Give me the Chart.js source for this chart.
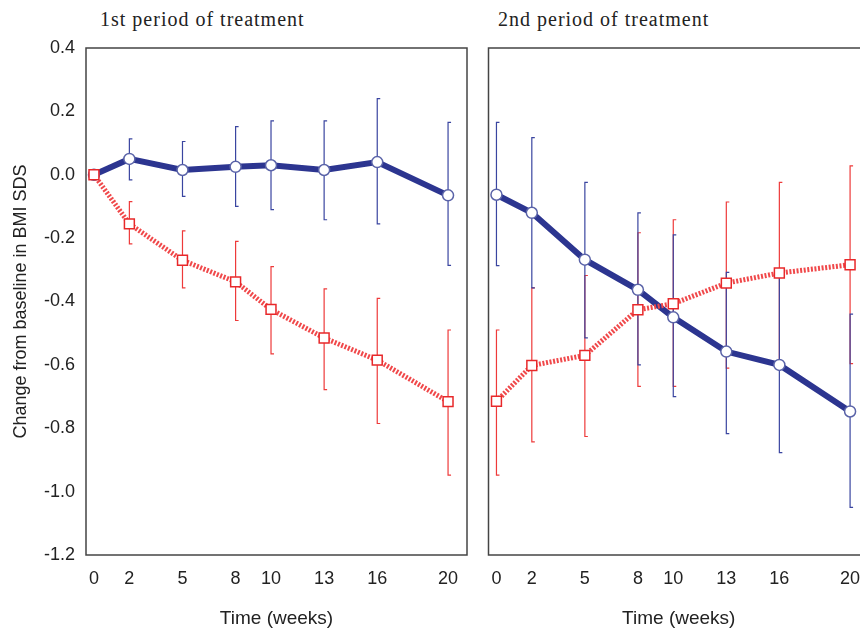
<!DOCTYPE html>
<html lang="en">
<head>
<meta charset="UTF-8">
<title>Change from baseline in BMI SDS</title>
<script src="https://cdn.jsdelivr.net/npm/chart.js"></script>
<style>
  html, body { margin: 0; padding: 0; background: #fff; overflow: hidden; }
  body { width: 860px; height: 630px; position: relative; }
  .panel { position: absolute; top: 0; height: 630px; }
  .ptitle { position: absolute; top: 9px; font-family: 'Liberation Serif', 'Times New Roman', serif;
            font-size: 20px; line-height: 20px; letter-spacing: 1px; color: #222; white-space: nowrap; }
</style>
</head>
<body>
<div class="ptitle" style="left:100px">1st period of treatment</div>
<div class="ptitle" style="left:498px">2nd period of treatment</div>
<div class="panel" style="left:0;width:480px"><canvas id="p1" width="480" height="630"></canvas></div>
<div class="panel" style="left:480px;width:400px"><canvas id="p2" width="400" height="630"></canvas></div>
<script>
// weeks and axis ticks
const weeks = [0, 2, 5, 8, 10, 13, 16, 20];
const yTicks = [-1.2, -1.0, -0.8, -0.6, -0.4, -0.2, 0.0, 0.2, 0.4];

// 1st period: means and error bar ends
const p1Blue   = [0.0, 0.05, 0.015, 0.025, 0.03, 0.015, 0.04, -0.065];
const p1BlueHi = [0.0, 0.113, 0.105, 0.152, 0.17, 0.17, 0.24, 0.165];
const p1BlueLo = [0.0, -0.016, -0.068, -0.10, -0.11, -0.142, -0.155, -0.286];
const p1Red    = [0.0, -0.155, -0.27, -0.338, -0.425, -0.515, -0.585, -0.716];
const p1RedHi  = [0.0, -0.085, -0.177, -0.21, -0.29, -0.36, -0.39, -0.49];
const p1RedLo  = [0.0, -0.218, -0.357, -0.46, -0.565, -0.678, -0.785, -0.948];

// 2nd period
const p2Blue   = [-0.063, -0.12, -0.268, -0.363, -0.45, -0.558, -0.6, -0.747];
const p2BlueHi = [0.165, 0.117, -0.024, -0.12, -0.19, -0.308, -0.32, -0.44];
const p2BlueLo = [-0.287, -0.357, -0.515, -0.6, -0.70, -0.817, -0.877, -1.05];
const p2Red    = [-0.715, -0.602, -0.57, -0.426, -0.407, -0.342, -0.31, -0.284];
const p2RedHi  = [-0.49, -0.357, -0.318, -0.183, -0.142, -0.086, -0.024, 0.028];
const p2RedLo  = [-0.948, -0.843, -0.826, -0.668, -0.668, -0.61, -0.596, -0.596];

Chart.defaults.font.family = "'Liberation Sans', Arial, sans-serif";
Chart.defaults.color = '#333';

// frame + error bars, drawn under the lines
const errorBars = {
  id: 'errorBars',
  beforeDatasetsDraw(chart) {
    const { ctx, chartArea: a, scales: { x, y } } = chart;
    ctx.save();
    ctx.strokeStyle = '#444';
    ctx.lineWidth = 1.5;
    ctx.strokeRect(a.left, a.top, a.right - a.left, a.bottom - a.top);
    chart.data.datasets.forEach(ds => {
      ctx.strokeStyle = ds.errColor;
      ctx.lineWidth = 1.2;
      weeks.forEach((w, i) => {
        if (ds.hi[i] === ds.lo[i]) return;
        const px = x.getPixelForValue(w);
        const top = y.getPixelForValue(ds.hi[i]);
        const bot = y.getPixelForValue(ds.lo[i]);
        ctx.beginPath();
        ctx.moveTo(px + 3, top);
        ctx.lineTo(px, top);
        ctx.lineTo(px, bot);
        ctx.lineTo(px + 3, bot);
        ctx.stroke();
      });
    });
    ctx.restore();
  }
};

function makePanel(id, blue, blueHi, blueLo, red, redHi, redLo, first) {
  const pts = arr => weeks.map((w, i) => ({ x: w, y: arr[i] }));
  new Chart(document.getElementById(id), {
    type: 'line',
    data: {
      datasets: [
        {
          data: pts(red), hi: redHi, lo: redLo, errColor: '#ee3a3a',
          borderColor: '#f0484a', borderWidth: 5, borderDash: [2, 1.6],
          pointStyle: 'rect', pointRadius: 7, pointBorderWidth: 1.5,
          pointBackgroundColor: '#fff', pointBorderColor: '#e8282a', tension: 0
        },
        {
          data: pts(blue), hi: blueHi, lo: blueLo, errColor: '#3a45a0',
          borderColor: '#2c3590', borderWidth: 6,
          pointStyle: 'circle', pointRadius: 5.5, pointBorderWidth: 1.5,
          pointBackgroundColor: '#fff', pointBorderColor: '#5a63a8', tension: 0
        }
      ]
    },
    options: {
      responsive: false,
      animation: false,
      layout: { padding: { top: 48, right: first ? 13 : 11, left: 0, bottom: 0 } },
      plugins: { legend: { display: false }, tooltip: { enabled: false } },
      scales: {
        x: {
          type: 'linear', min: -0.45, max: 21.07,
          grid: { display: false }, border: { display: false },
          afterBuildTicks: s => { s.ticks = weeks.map(v => ({ value: v })); },
          afterFit: s => { s.height = 75; },
          ticks: { font: { size: 18 }, color: '#222', padding: 5, callback: v => v },
          title: { display: true, text: 'Time (weeks)', font: { size: 19 }, color: '#222', padding: { top: 0, bottom: 0 } }
        },
        y: {
          min: -1.2, max: 0.4,
          grid: { display: false }, border: { display: false },
          afterBuildTicks: s => { s.ticks = yTicks.map(v => ({ value: v })); },
          afterFit: s => { s.width = first ? 86 : 8; },
          ticks: { display: first, font: { size: 18 }, color: '#222', padding: 3, callback: v => v.toFixed(1) },
          title: { display: first, text: 'Change from baseline in BMI SDS', font: { size: 18 }, color: '#222', padding: { top: 10, bottom: 0 } }
        }
      }
    },
    plugins: [errorBars]
  });
}

makePanel('p1', p1Blue, p1BlueHi, p1BlueLo, p1Red, p1RedHi, p1RedLo, true);
makePanel('p2', p2Blue, p2BlueHi, p2BlueLo, p2Red, p2RedHi, p2RedLo, false);
</script>
</body>
</html>
